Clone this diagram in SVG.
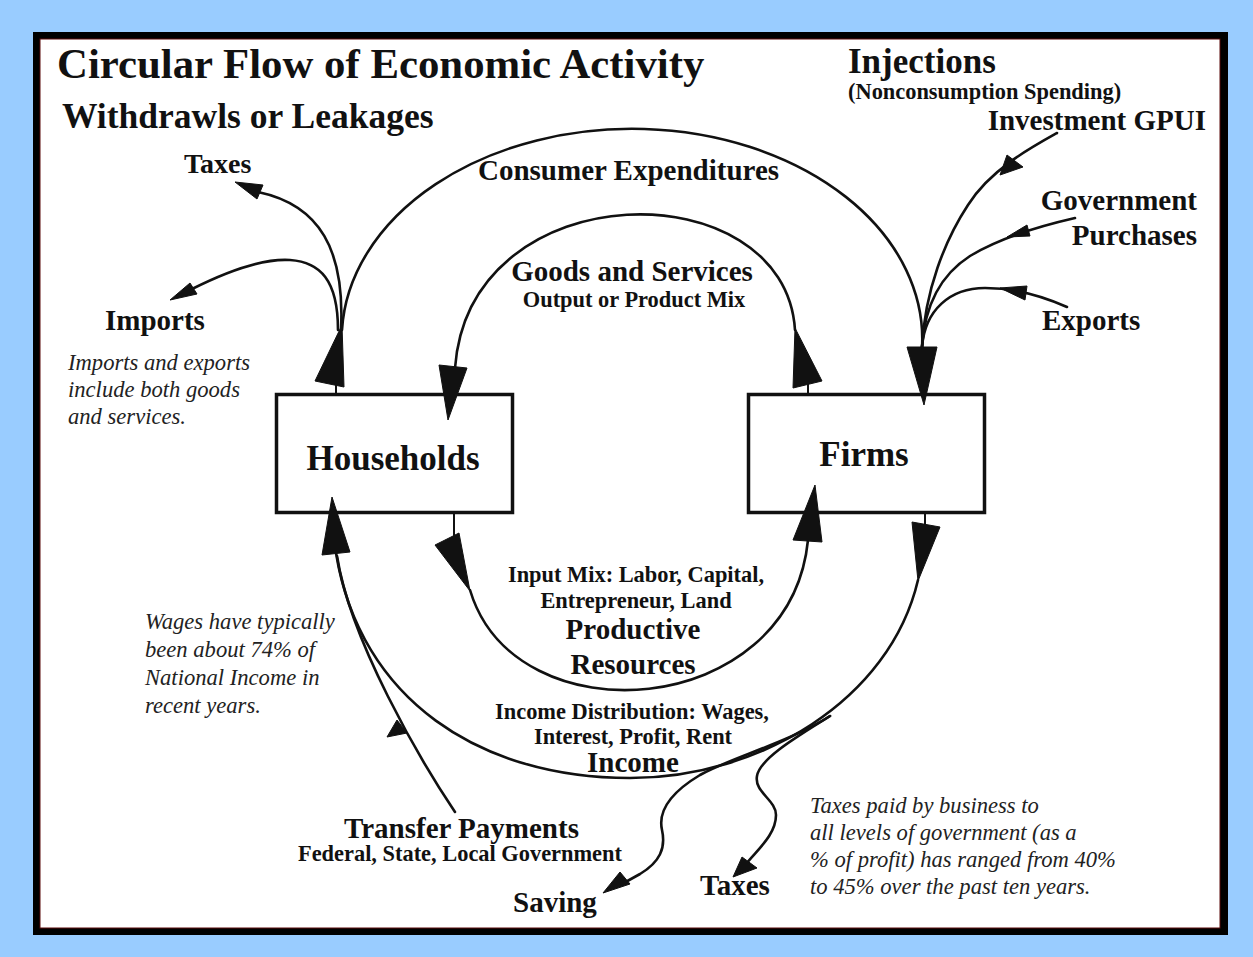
<svg xmlns="http://www.w3.org/2000/svg" width="1253" height="957" viewBox="0 0 1253 957">
<style>
.b{font-family:"Liberation Serif","Times New Roman",serif;font-weight:bold;fill:#111}
.n{font-family:"Liberation Serif","Times New Roman",serif;font-style:italic;fill:#222;font-size:22.6px}
.c{fill:none;stroke:#111;stroke-width:2.6;stroke-linecap:round}
.s{fill:none;stroke:#111;stroke-width:2}
.ah{fill:#111;stroke:#111;stroke-width:1;stroke-linejoin:round}
.box{fill:#fff;stroke:#111;stroke-width:3.5}
</style>
<rect x="0" y="0" width="1253" height="957" fill="#99CCFF"/>
<rect x="33" y="32" width="1195" height="903" fill="#000"/>
<rect x="40" y="39" width="1180" height="889" fill="#fff" stroke="#5a0a0a" stroke-width="1"/>

<g id="titles">
<text class="b" x="57" y="78" font-size="42.8">Circular Flow of Economic Activity</text>
<text class="b" x="62" y="128" font-size="35.5">Withdrawls or Leakages</text>
<text class="b" x="848" y="73" font-size="35">Injections</text>
<text class="b" x="848" y="99" font-size="22.4">(Nonconsumption Spending)</text>
</g>

<g id="households"><rect class="box" x="276.5" y="394.5" width="236" height="118"/><text class="b" x="393" y="470" font-size="35" text-anchor="middle">Households</text></g>
<g id="firms"><rect class="box" x="748.5" y="394.5" width="236" height="118"/><text class="b" x="864" y="466" font-size="35" text-anchor="middle">Firms</text></g>

<g id="connectors">
<!-- consumer expenditures -->
<path class="c" d="M342,330 A290,210 0 0 1 922,348"/>
<line class="s" x1="336" y1="384" x2="336" y2="394"/>
<polygon class="ah" points="342,325 315,381 344,387"/>
<polygon class="ah" points="907,347 937,347 924,405"/>
<!-- leakages top-left -->
<path class="c" d="M341,330 C345,250 320,205 258,192"/>
<polygon class="ah" points="235,182 257,199 263,185"/>
<path class="c" d="M338,330 C338,280 320,262 290,260 C260,258 220,275 192,289"/>
<polygon class="ah" points="170,300 190,283 197,294"/>
<!-- goods and services -->
<path class="c" d="M455,368 C470,170 785,170 795,330"/>
<polygon class="ah" points="439,365 467,368 448,420"/>
<line class="s" x1="808" y1="383" x2="808" y2="394"/>
<polygon class="ah" points="795,328 793,388 822,381"/>
<!-- injections -->
<path class="c" d="M1057,133 C1030,148 990,170 968,205 C945,240 925,290 922,347"/>
<polygon class="ah" points="1000,175 1007,155 1023,167"/>
<path class="c" d="M1075,218 C1040,226 1000,238 970,256 C945,272 925,300 922,347"/>
<polygon class="ah" points="1007,237 1027,225 1030,236"/>
<path class="c" d="M1067,307 C1040,295 1010,288 985,288 C950,288 925,310 922,347"/>
<polygon class="ah" points="1000,288 1027,286 1025,300"/>
<!-- input mix -->
<line class="s" x1="454" y1="513" x2="454" y2="538"/>
<polygon class="ah" points="435,545 459,533 470,591"/>
<path class="c" d="M470,590 C515,740 790,720 808,540"/>
<polygon class="ah" points="815,485 793,540 822,542"/>
<!-- income -->
<line class="s" x1="925" y1="513" x2="925" y2="525"/>
<polygon class="ah" points="912,522 940,527 918,581"/>
<path class="c" d="M918,580 C890,700 760,778 630,778 C480,778 360,700 336,553"/>
<polygon class="ah" points="332,497 322,555 350,552"/>
<!-- transfer payments -->
<path class="c" d="M455,812 C420,760 350,640 337,556"/>
<polygon class="ah" points="397,720 387,737 407,733"/>
<!-- saving and taxes -->
<path class="c" d="M830,716 C790,742 730,758 700,775 C670,793 658,812 662,830 C666,848 660,862 640,874 L622,884"/>
<polygon class="ah" points="603,893 620,872 630,884"/>
<path class="c" d="M830,716 C800,735 760,758 757,776 C754,792 776,800 776,815 C776,835 757,850 746,864"/>
<polygon class="ah" points="733,877 742,857 757,868"/>
</g>

<g id="labels">
<text class="b" x="184" y="173" font-size="28">Taxes</text>
<text class="b" x="105" y="330" font-size="29">Imports</text>
<text class="b" x="478" y="180" font-size="29">Consumer Expenditures</text>
<text class="b" x="1206" y="130" font-size="29" text-anchor="end">Investment GPUI</text>
<text class="b" x="1197" y="210" font-size="29" text-anchor="end">Government</text>
<text class="b" x="1197" y="245" font-size="29" text-anchor="end">Purchases</text>
<text class="b" x="1042" y="330" font-size="29">Exports</text>
<text class="b" x="632" y="281" font-size="29" text-anchor="middle">Goods and Services</text>
<text class="b" x="634" y="307" font-size="22.4" text-anchor="middle">Output or Product Mix</text>
<text class="b" x="636" y="582" font-size="22.4" text-anchor="middle">Input Mix: Labor, Capital,</text>
<text class="b" x="636" y="608" font-size="22.4" text-anchor="middle">Entrepreneur, Land</text>
<text class="b" x="633" y="639" font-size="29" text-anchor="middle">Productive</text>
<text class="b" x="633" y="674" font-size="29" text-anchor="middle">Resources</text>
<text class="b" x="632" y="719" font-size="22.4" text-anchor="middle">Income Distribution: Wages,</text>
<text class="b" x="633" y="744" font-size="22.4" text-anchor="middle">Interest, Profit, Rent</text>
<text class="b" x="633" y="772" font-size="29" text-anchor="middle">Income</text>
<text class="b" x="344" y="838" font-size="29">Transfer Payments</text>
<text class="b" x="298" y="861" font-size="22.4">Federal, State, Local Government</text>
<text class="b" x="513" y="912" font-size="29">Saving</text>
<text class="b" x="700" y="895" font-size="29">Taxes</text>
</g>

<g id="notes">
<text class="n" x="68" y="370">Imports and exports</text>
<text class="n" x="68" y="397">include both goods</text>
<text class="n" x="68" y="424">and services.</text>
<text class="n" x="145" y="629">Wages have typically</text>
<text class="n" x="145" y="657">been about 74% of</text>
<text class="n" x="145" y="685">National Income in</text>
<text class="n" x="145" y="713">recent years.</text>
<text class="n" x="810" y="813">Taxes paid by business to</text>
<text class="n" x="810" y="840">all levels of government (as a</text>
<text class="n" x="810" y="867">% of profit) has ranged from 40%</text>
<text class="n" x="810" y="894">to 45% over the past ten years.</text>
</g>
</svg>
